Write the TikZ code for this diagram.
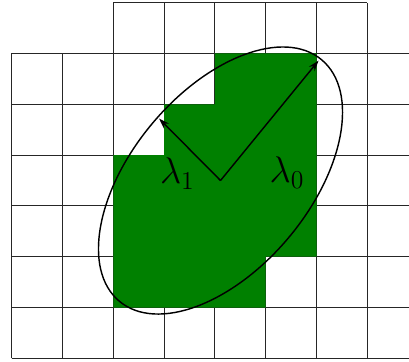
\documentclass[tikz,border=0pt]{standalone}
\usetikzlibrary{arrows.meta}
\definecolor{cellgreen}{RGB}{0,128,0}
\tikzset{
  gridline/.style={line width=0.6pt, black!85},
  region/.style={fill=cellgreen, draw=none},
  outline/.style={line width=0.8pt, black},
  axisarrow/.style={line width=0.8pt, black, -{Stealth[length=6pt,width=4pt]}},
  lab/.style={font=\huge, inner sep=0pt}
}
\begin{document}
\begin{tikzpicture}
\useasboundingbox (-0.23,-0.053) rectangle (7.82,7.053);
% grid
\draw[gridline] (0,0) grid (7.82,6);
\draw[gridline] (2,6) grid (7,7);
% green region
\fill[region] (4,6) -- (6,6) -- (6,2) -- (5,2) -- (5,1) -- (2,1) -- (2,4) -- (3,4) -- (3,5) -- (4,5) -- cycle;
% ellipse
\coordinate (c) at (4.11,3.5);
\draw[outline, rotate around={50:(c)}] (c) ellipse [x radius=3.1, y radius=1.75];
% axes
\coordinate (t0) at (6.04,5.86);
\coordinate (t1) at (2.90,4.72);
\draw[axisarrow] (c) -- (t0);
\draw[axisarrow] (c) -- (t1);
% labels
\node[lab] (l1) at (3.26,3.63) {$\lambda_1$};
\node[lab] (l0) at (5.42,3.65) {$\lambda_0$};
\end{tikzpicture}
\end{document}
